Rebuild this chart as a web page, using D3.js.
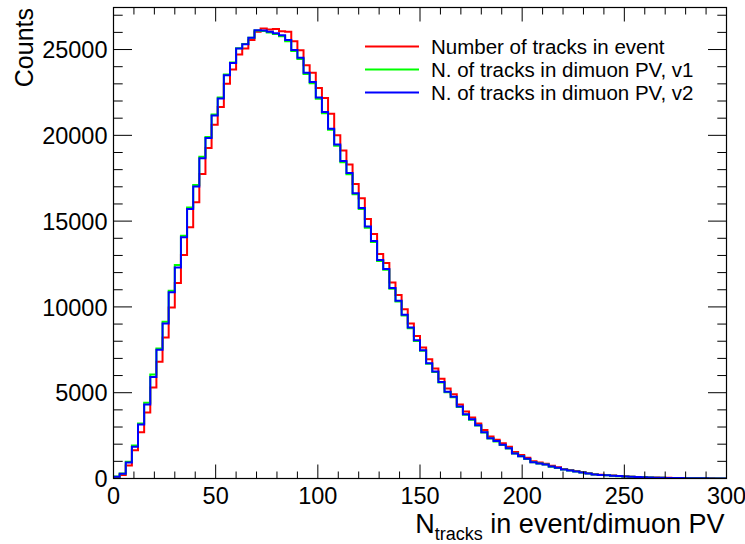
<!DOCTYPE html>
<html><head><meta charset="utf-8">
<script src="https://cdn.jsdelivr.net/npm/d3@7"></script>
<style>body{margin:0;background:#fff}svg{display:block}text{font-family:"Liberation Sans",Arial,Helvetica,sans-serif}</style>
</head><body><svg id="c" width="745" height="544"></svg>
<script>
const binWidth = 3;
const xTicks = [0, 50, 100, 150, 200, 250, 300];
const yTicks = [0, 5000, 10000, 15000, 20000, 25000];
const seriesNames = ["Number of tracks in event", "N. of tracks in dimuon PV, v1", "N. of tracks in dimuon PV, v2"];
const seriesColors = ["#ff0000", "#00ff00", "#0000ff"];

const redEvent = [60,200,760,1640,2700,3840,5300,6800,8220,9970,
11390,13030,14640,16100,17750,19260,20620,21650,23010,23830,
24710,25060,25550,26030,26230,26170,26190,26070,26030,25480,
24960,24080,23650,22760,22180,21260,20000,19120,18300,17170,
16340,15130,14250,13080,12560,11430,10690,9870,9040,8310,
7630,6950,6410,5820,5240,4910,4320,3900,3550,3210,
2830,2450,2260,2050,1850,1540,1370,1210,1010,930,
860,740,660,560,500,440,375,310,250,225,
200,172,150,128,108,92,76,65,54,45,
38,30,24,20,15,12,10,8,6,4];

const greenV1 = [110,290,980,1930,3210,4420,6060,7580,9130,10940,
12440,14150,15790,17110,18750,19900,21220,22200,23540,24250,
25080,25320,25690,26110,26080,25990,25900,25780,25480,24910,
24450,23580,23040,22130,21290,20320,19400,18430,17730,16570,
15710,14620,13790,12680,12160,11060,10320,9500,8760,8010,
7440,6690,6200,5600,5030,4740,4170,3720,3430,3090,
2680,2330,2160,1950,1750,1450,1290,1140,940,870,
810,690,610,525,465,405,345,285,228,208,
188,158,138,118,99,84,69,59,49,41,
34,27,21,17,13,10,8,6,5,4];

const blueV2 = [100,270,930,1850,3140,4320,5920,7500,9040,10850,
12300,14060,15710,17020,18670,19840,21160,22140,23500,24220,
25060,25310,25690,26130,26110,26030,25950,25840,25550,24980,
24520,23650,23110,22200,21360,20390,19470,18500,17800,16630,
15770,14680,13840,12730,12210,11100,10360,9540,8800,8050,
7480,6720,6230,5630,5060,4770,4200,3740,3450,3110,
2700,2350,2180,1970,1770,1460,1300,1150,950,880,
820,700,620,530,470,410,350,290,230,210,
190,160,140,120,100,85,70,60,50,42,
35,28,22,18,14,11,9,7,5,4];

const L = 113.5, R = 726.5, T = 7.5, B = 478.5;
const x = d3.scaleLinear().domain([0, 300]).range([L, R]);
const y = d3.scaleLinear().domain([0, 27450]).range([B, T]);
const svg = d3.select("#c");

svg.append("clipPath").attr("id","clip").append("rect")
  .attr("x", L).attr("y", T).attr("width", R-L).attr("height", B-T);

function stepPath(vals){
  const pts = [[0,0]];
  vals.forEach((v,i)=>{ pts.push([i*binWidth, v]); });
  pts.push([vals.length*binWidth, vals[vals.length-1]]);
  return d3.line().x(d=>x(d[0])).y(d=>y(d[1])).curve(d3.curveStepAfter)(pts);
}
const data = [redEvent, greenV1, blueV2];
const g = svg.append("g").attr("clip-path","url(#clip)");
data.forEach((vals,k)=>{
  g.append("path").attr("d", stepPath(vals)).attr("fill","none")
   .attr("stroke", seriesColors[k]).attr("stroke-width", 2);
});

// frame
svg.append("rect").attr("x",L).attr("y",T).attr("width",R-L).attr("height",B-T)
  .attr("fill","none").attr("stroke","#000").attr("stroke-width",1.2);

// axes ticks
const xMinor = d3.range(0, 301, 10);
const yMinor = d3.range(0, 27001, 1000);
const tk = svg.append("g").attr("stroke","#000").attr("stroke-width",1);
xMinor.forEach(v=>{
  const len = (v % 50 === 0) ? 14 : 7;
  tk.append("line").attr("x1",x(v)).attr("x2",x(v)).attr("y1",B).attr("y2",B-len);
  tk.append("line").attr("x1",x(v)).attr("x2",x(v)).attr("y1",T).attr("y2",T+len);
});
yMinor.forEach(v=>{
  const len = (v % 5000 === 0) ? 18.5 : 9.2;
  tk.append("line").attr("y1",y(v)).attr("y2",y(v)).attr("x1",L).attr("x2",L+len);
  tk.append("line").attr("y1",y(v)).attr("y2",y(v)).attr("x1",R).attr("x2",R-len);
});

// tick labels
xTicks.forEach(v=>{
  svg.append("text").attr("x",x(v)).attr("y",B+25).attr("text-anchor","middle")
    .attr("font-size",23.5).text(v);
});
yTicks.forEach(v=>{
  svg.append("text").attr("x",L-6).attr("y",y(v)+8.7).attr("text-anchor","end")
    .attr("font-size",23.5).text(v);
});

// axis titles
svg.append("text").attr("transform","translate(33,8) rotate(-90)").attr("text-anchor","end")
  .attr("font-size",25).text("Counts");
const xt = svg.append("text").attr("x",R-2).attr("y",533).attr("text-anchor","end").attr("font-size",27);
xt.append("tspan").text("N");
xt.append("tspan").attr("font-size",18).attr("dy",7).text("tracks");
xt.append("tspan").attr("dy",-7).text(" in event/dimuon PV");

// legend
seriesNames.forEach((n,k)=>{
  const yy = 46.5 + k*23;
  svg.append("line").attr("x1",365).attr("x2",419).attr("y1",yy).attr("y2",yy)
    .attr("stroke",seriesColors[k]).attr("stroke-width",2);
  svg.append("text").attr("x",431).attr("y",yy+7).attr("font-size",20.5).text(n);
});
</script></body></html>
